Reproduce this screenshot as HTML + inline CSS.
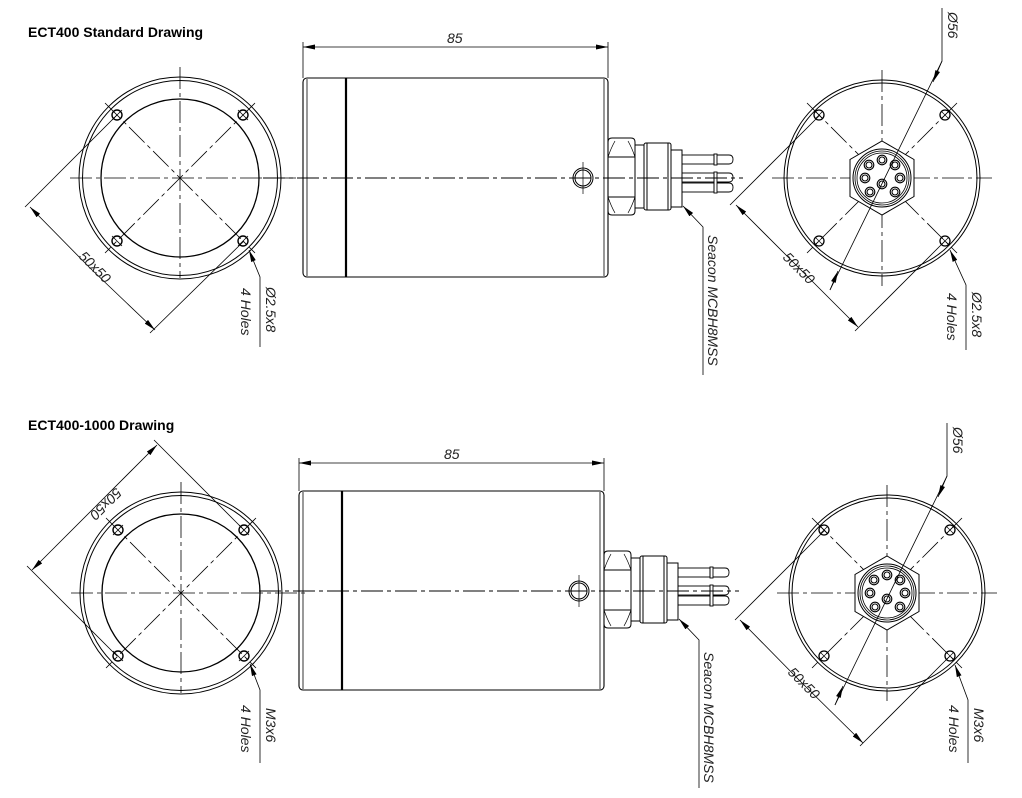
<!DOCTYPE html>
<html><head><meta charset="utf-8"><style>
html,body{margin:0;padding:0;background:#fff;width:1022px;height:798px;overflow:hidden}
svg{display:block}
.t{font-family:"Liberation Sans",sans-serif;font-style:italic;font-size:14px;fill:#222}
.h{font-family:"Liberation Sans",sans-serif;font-weight:bold;font-size:14px;fill:#000}
</style></head><body>
<svg width="1022" height="798" viewBox="0 0 1022 798" xmlns="http://www.w3.org/2000/svg">
<defs>
<marker id="a" markerWidth="12" markerHeight="5" refX="12" refY="2.5" orient="auto" markerUnits="userSpaceOnUse"><path d="M0,0 L12,2.5 L0,5z" fill="#000"/></marker>
<g id="lc" fill="none" stroke="#000">
  <circle r="101" stroke-width="1"/>
  <circle r="97.5" stroke-width="1"/>
  <circle r="79" stroke-width="1.3"/>
  <g stroke-width="0.8" stroke-dasharray="22,4,4,4">
    <line x1="-110" y1="0" x2="125" y2="0"/>
    <line x1="0" y1="-111" x2="0" y2="100"/>
    <line x1="-75" y1="-75" x2="75" y2="75"/>
    <line x1="75" y1="-75" x2="-75" y2="75"/>
  </g>
  <g stroke-width="1.4">
    <circle cx="-63" cy="-63" r="5"/><circle cx="63" cy="-63" r="5"/>
    <circle cx="-63" cy="63" r="5"/><circle cx="63" cy="63" r="5"/>
  </g>
  <g stroke-width="0.8">
    <line x1="-68" y1="-58" x2="-58" y2="-68"/><line x1="58" y1="-68" x2="68" y2="-58"/>
    <line x1="-68" y1="58" x2="-58" y2="68"/><line x1="58" y1="68" x2="68" y2="58"/>
  </g>
</g>
<g id="body" fill="none" stroke="#000">
  <rect x="0" y="0" width="305" height="199" rx="4" stroke-width="1.1"/>
  <line x1="4" y1="1" x2="4" y2="198" stroke-width="0.8"/>
  <line x1="301" y1="1" x2="301" y2="198" stroke-width="0.8"/>
  <line x1="43" y1="0" x2="43" y2="199" stroke-width="2.2"/>
  <circle cx="280" cy="100" r="10" stroke-width="1"/>
  <circle cx="280" cy="100" r="8" stroke-width="1"/>
  <line x1="280" y1="84" x2="280" y2="116" stroke-width="0.7"/>
  <line x1="-40" y1="100" x2="440" y2="100" stroke-width="0.9" stroke-dasharray="22,4,4,4"/>
  <path d="M305,64 Q305,60 309,60 L328,60 Q332,60 332,64 L332,133 Q332,137 328,137 L309,137 Q305,137 305,133 Z" stroke-width="1"/>
  <line x1="305" y1="79" x2="332" y2="79"/><line x1="305" y1="119" x2="332" y2="119"/>
  <path d="M305,79 Q308,70 312,63 M305,119 Q308,128 312,135 M332,79 Q329,70 325,63 M332,119 Q329,128 325,135" stroke-width="0.7"/>
  <rect x="332" y="67" width="9" height="63"/>
  <rect x="341" y="65" width="27" height="67" rx="2"/>
  <line x1="344" y1="65" x2="344" y2="132"/><line x1="365" y1="65" x2="365" y2="132"/>
  <rect x="368" y="72" width="11" height="57"/>
  <g stroke-width="0.9">
    <rect x="379" y="77" width="32" height="9"/>
    <rect x="379" y="95" width="32" height="9"/>
    <rect x="379" y="105" width="32" height="9"/>
    <rect x="411" y="76" width="3" height="11"/>
    <rect x="411" y="94" width="3" height="21"/>
    <path d="M414,77 L426,77 Q430,77 430,81.5 Q430,86 426,86 L414,86"/>
    <path d="M414,95 L426,95 Q430,95 430,99.5 Q430,104 426,104 L414,104"/>
    <path d="M414,105 L426,105 Q430,105 430,109.5 Q430,114 426,114 L414,114"/>
  </g>
  <path d="M400,297 L400,149 L380,128" stroke-width="0.8" marker-end="url(#a)"/>
</g>
<g id="rc" fill="none" stroke="#000">
  <circle r="98" stroke-width="1"/>
  <circle r="95" stroke-width="1"/>
  <g stroke-width="0.8" stroke-dasharray="22,4,4,4">
    <line x1="-110" y1="0" x2="110" y2="0"/>
    <line x1="0" y1="-108" x2="0" y2="108"/>
    <line x1="-75" y1="-75" x2="75" y2="75"/>
    <line x1="75" y1="-75" x2="-75" y2="75"/>
  </g>
  <g stroke-width="1.3">
    <circle cx="-63" cy="-63" r="5"/><circle cx="63" cy="-63" r="5"/>
    <circle cx="-63" cy="63" r="5"/><circle cx="63" cy="63" r="5"/>
  </g>
  <g stroke-width="0.7">
    <path d="M-66,-66 L-60,-60 M-66,-60 L-60,-66 M60,-66 L66,-60 M60,-60 L66,-66 M-66,60 L-60,66 M-66,66 L-60,60 M60,60 L66,66 M60,66 L66,60"/>
  </g>
  <polygon points="0,-37 32,-18.5 32,18.5 0,37 -32,18.5 -32,-18.5" fill="#fff" stroke-width="1"/>
  <circle r="29" stroke-width="1"/><circle r="27" stroke-width="0.8"/><circle r="25" stroke-width="0.8"/>
  <g stroke-width="1.1">
    <circle cx="0" cy="-18" r="4.8"/><circle cx="-13" cy="-13" r="4.8"/><circle cx="13" cy="-13" r="4.8"/>
    <circle cx="-17" cy="0" r="4.8"/><circle cx="18" cy="0" r="4.8"/>
    <circle cx="-12" cy="14" r="4.8"/><circle cx="13" cy="14" r="4.8"/><circle cx="0" cy="6" r="4.8"/>
    <circle cx="0" cy="-18" r="3"/><circle cx="-13" cy="-13" r="3"/><circle cx="13" cy="-13" r="3"/>
    <circle cx="-17" cy="0" r="3"/><circle cx="18" cy="0" r="3"/>
    <circle cx="-12" cy="14" r="3"/><circle cx="13" cy="14" r="3"/><circle cx="0" cy="6" r="3"/>
  </g>
  <g stroke-width="0.8">
    <path d="M60,-170 L60,-117 L-52,112"/>
    <path d="M60,-117 L51,-96" marker-end="url(#a)"/>
    <path d="M-52,112 L-44,93" marker-end="url(#a)"/>
  </g>
</g>
</defs>

<text class="h" x="28" y="37">ECT400 Standard Drawing</text>
<text class="h" x="28" y="430">ECT400-1000 Drawing</text>

<!-- TOP -->
<use href="#lc" x="180" y="178"/>
<g fill="none" stroke="#000" stroke-width="0.8">
  <line x1="117" y1="115" x2="25" y2="207"/>
  <line x1="244" y1="241" x2="150" y2="333"/>
  <path d="M90,268 L30,207" marker-end="url(#a)"/>
  <path d="M90,268 L155,330" marker-end="url(#a)"/>
  <path d="M260,347 L260,277 L249,250" marker-end="url(#a)"/>
</g>
<text class="t" transform="translate(78,257) rotate(45)">50x50</text>
<text class="t" transform="translate(266,287) rotate(90)">Ø2.5x8</text>
<text class="t" transform="translate(241,288) rotate(90)">4 Holes</text>

<use href="#body" x="303" y="78"/>
<g fill="none" stroke="#000" stroke-width="0.8">
  <line x1="303" y1="42" x2="303" y2="78"/><line x1="608" y1="42" x2="608" y2="78"/>
  <path d="M455,47 L303,47" marker-end="url(#a)"/><path d="M455,47 L608,47" marker-end="url(#a)"/>
</g>
<text class="t" x="447" y="43">85</text>
<text class="t" transform="translate(708,235) rotate(90)">Seacon MCBH8MSS</text>

<use href="#rc" x="882" y="178"/>
<g fill="none" stroke="#000" stroke-width="0.8">
  <line x1="820" y1="115" x2="730" y2="205"/>
  <line x1="945" y1="241" x2="855" y2="331"/>
  <path d="M797,266 L736,205" marker-end="url(#a)"/>
  <path d="M797,266 L858,327" marker-end="url(#a)"/>
  <path d="M966,350 L966,285 L950,250" marker-end="url(#a)"/>
</g>
<text class="t" transform="translate(948,12) rotate(90)">Ø56</text>
<text class="t" transform="translate(782,258) rotate(45)">50x50</text>
<text class="t" transform="translate(972,292) rotate(90)">Ø2.5x8</text>
<text class="t" transform="translate(947,293) rotate(90)">4 Holes</text>

<!-- BOTTOM -->
<use href="#lc" x="181" y="593"/>
<g fill="none" stroke="#000" stroke-width="0.8">
  <line x1="117" y1="656" x2="27" y2="566"/>
  <line x1="244" y1="530" x2="154" y2="440"/>
  <path d="M95,507 L32,570" marker-end="url(#a)"/>
  <path d="M95,507 L157,445" marker-end="url(#a)"/>
  <path d="M260,763 L260,690 L250,664" marker-end="url(#a)"/>
</g>
<text class="t" transform="translate(116,487) rotate(135)">50x50</text>
<text class="t" transform="translate(266,708) rotate(90)">M3x6</text>
<text class="t" transform="translate(241,705) rotate(90)">4 Holes</text>

<use href="#body" x="299" y="491"/>
<g fill="none" stroke="#000" stroke-width="0.8">
  <line x1="299" y1="458" x2="299" y2="491"/><line x1="604" y1="458" x2="604" y2="491"/>
  <path d="M452,463 L299,463" marker-end="url(#a)"/><path d="M452,463 L604,463" marker-end="url(#a)"/>
</g>
<text class="t" x="444" y="459">85</text>
<text class="t" transform="translate(704,652) rotate(90)">Seacon MCBH8MSS</text>

<use href="#rc" x="887" y="593"/>
<g fill="none" stroke="#000" stroke-width="0.8">
  <line x1="825" y1="530" x2="735" y2="620"/>
  <line x1="950" y1="656" x2="860" y2="746"/>
  <path d="M801,682 L740,620" marker-end="url(#a)"/>
  <path d="M801,682 L863,743" marker-end="url(#a)"/>
  <path d="M968,763 L968,700 L955,665" marker-end="url(#a)"/>
</g>
<text class="t" transform="translate(953,427) rotate(90)">Ø56</text>
<text class="t" transform="translate(787,673) rotate(45)">50x50</text>
<text class="t" transform="translate(974,708) rotate(90)">M3x6</text>
<text class="t" transform="translate(949,705) rotate(90)">4 Holes</text>
</svg>
</body></html>
